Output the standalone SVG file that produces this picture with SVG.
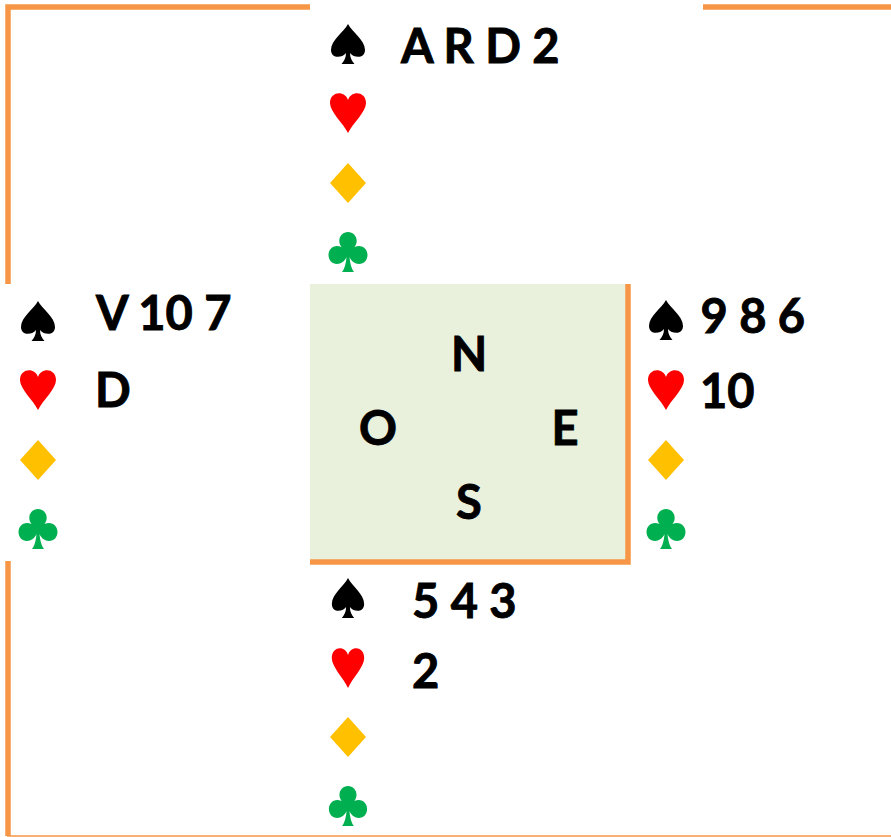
<svg xmlns="http://www.w3.org/2000/svg" width="891" height="837" viewBox="0 0 891 837">
<style>
.f{fill:none;stroke:#F79646;stroke-width:5.5}
.t{font-family:Lato,"Noto Sans","Liberation Sans",sans-serif;font-weight:700;font-size:47px;fill:#000;stroke:#000;stroke-width:.9}
.c{text-anchor:middle}
.s{fill:#000}.h{fill:#F00}.d{fill:#FFC000}.k{fill:#00B050}
</style>
<defs>
<path id="spade" d="M0-20C4-12 17-4 17 6C17 14 7 15 2 9C2 14 4 17 6.500 20H-6.500C-4 17-2 14-2 9C-7 15-17 14-17 6C-17-4-4-12 0-20Z"/>
<path id="heart" d="M0 20C-5 10-18-1-18-10C-18-22-3-23 0-13C3-23 18-22 18-10C18-1 5 10 0 20Z"/>
<path id="diamond" d="M0-20L18 0L0 20L-18 0Z"/>
<path id="club" d="M-1.500 5C-3 9-7 12-11 12C-16 12-19.500 8-19.500 3C-19.500-2-16-6-11-6C-9.500-6-8-5.500-6.500-5C-8-7-8.700-9-8.700-11.300C-8.700-16-5-20 0-20C5-20 8.700-16 8.700-11.300C8.700-9 8-7 6.500-5C8-5.500 9.500-6 11-6C16-6 19.500-2 19.500 3C19.500 8 16 12 11 12C7 12 3 9 1.500 5C2 11 3.500 17 6 20H-6C-3.500 17-2 11-1.500 5Z"/>
</defs>
<rect width="891" height="837" fill="#fff"/>
<g id="connectors">
<path class="f" d="M8 284V7H310"/>
<path class="f" d="M703 7H891"/>
<path class="f" d="M8 561V836"/>
<path d="M7 836H891" fill="none" stroke="#F79646" stroke-width="1.500"/>
</g>
<g id="table">
<rect x="310" y="284" width="318" height="278" fill="#E9F0DC"/>
<path class="f" d="M628 284V562H310"/>
<text class="t c" x="469" y="371">N</text>
<text class="t c" x="378" y="445">O</text>
<text class="t c" x="565" y="445">E</text>
<text class="t c" x="469" y="519">S</text>
</g>
<g id="north">
<use href="#spade" class="s" x="348" y="44"/>
<use href="#heart" class="h" x="348" y="113"/>
<use href="#diamond" class="d" x="348" y="183"/>
<use href="#club" class="k" x="348" y="252"/>
<text class="t" x="401" y="63">A R D 2</text>
</g>
<g id="west">
<use href="#spade" class="s" x="38" y="321"/>
<use href="#heart" class="h" x="38" y="390"/>
<use href="#diamond" class="d" x="38" y="460"/>
<use href="#club" class="k" x="38" y="529"/>
<text class="t" x="96" y="330">V 10 7</text>
<text class="t" x="95" y="407">D</text>
</g>
<g id="east">
<use href="#spade" class="s" x="666" y="320"/>
<use href="#heart" class="h" x="666" y="390"/>
<use href="#diamond" class="d" x="666" y="460"/>
<use href="#club" class="k" x="666" y="529"/>
<text class="t" x="700.500" y="333">9 8 6</text>
<text class="t" x="700" y="408">10</text>
</g>
<g id="south">
<use href="#spade" class="s" transform="translate(348 598) scale(.95 1)"/>
<use href="#heart" class="h" transform="translate(348 668) scale(.9 1)"/>
<use href="#diamond" class="d" transform="translate(348 737) scale(1 1)"/>
<use href="#club" class="k" transform="translate(348 806) scale(.98 1)"/>
<text class="t" x="412" y="618">5 4 3</text>
<text class="t" x="412" y="688">2</text>
</g>
</svg>
